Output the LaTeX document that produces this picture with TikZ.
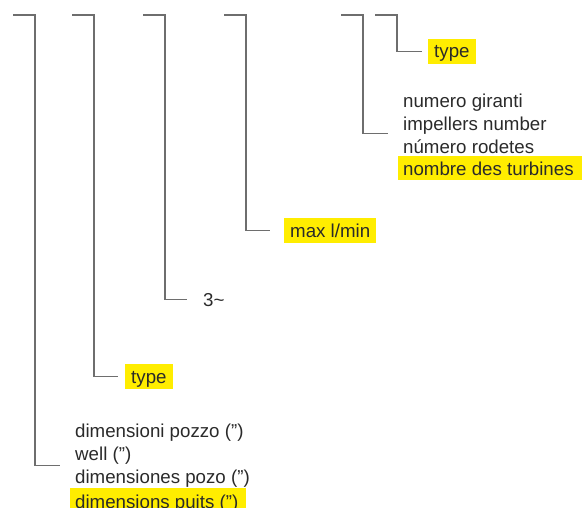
\documentclass[tikz,border=0pt]{standalone}
\usepackage{fontspec}
\setmainfont{Liberation Sans}

\definecolor{hlyellow}{HTML}{FFED00}
\definecolor{leadgray}{HTML}{6E6E6E}
\definecolor{txtgray}{HTML}{2A2A2A}

% yellow marker behind the last line of a block
\newcommand{\hilite}[1]{\hspace*{-5pt}{\setlength{\fboxsep}{0pt}\colorbox{hlyellow}{\hspace*{5pt}\rule[-4pt]{0pt}{24pt}#1\hspace*{8pt}}}}

\begin{document}
\begin{tikzpicture}[x=1pt, y=-1pt,
    lead/.style={draw=leadgray, line width=1.2pt},
    label/.style={font=\fontsize{18.7}{23}\selectfont, text=txtgray, inner sep=0pt, anchor=base west, align=left},
    hl/.style={label, fill=hlyellow, inner xsep=6pt, inner ysep=4pt, text height=15pt, text depth=2pt}]
    \useasboundingbox (0,0) rectangle (584,508);

    \coordinate (s1) at (13,15);
    \coordinate (s2) at (72,15);
    \coordinate (s3) at (143,15);
    \coordinate (s4) at (224,15);
    \coordinate (s5) at (341,15);
    \coordinate (s6) at (375,15);

    % multi-line blocks are placed by the baseline of their last line
    \node[label] (well) at (75,508) {dimensioni pozzo ('')\\well ('')\\dimensiones pozo ('')\\\hilite{dimensions puits ('')}};
    \node[hl] (type1) at (125,383) {type};
    \node[label] (phase) at (203,306) {3\textasciitilde};
    \node[hl] (flow) at (284,237) {max l/min};
    \node[label] (imp) at (403,176) {numero giranti\\impellers number\\número rodetes\\\hilite{nombre des turbines}};
    \node[hl] (type2) at (428,58) {type};

    \draw[lead] (s1) -- ++(22,0) |- ([xshift=-15pt,yshift=2pt]well.west);
    \draw[lead] (s2) -- ++(22,0) |- ([xshift=-7pt]type1.west);
    \draw[lead] (s3) -- ++(22,0) |- ([xshift=-16pt]phase.west);
    \draw[lead] (s4) -- ++(22,0) |- ([xshift=-14pt]flow.west);
    \draw[lead] (s5) -- ++(22,0) |- ([xshift=-15pt,yshift=3pt]imp.west);
    \draw[lead] (s6) -- ++(22,0) |- ([xshift=-6pt]type2.west);
\end{tikzpicture}
\end{document}
